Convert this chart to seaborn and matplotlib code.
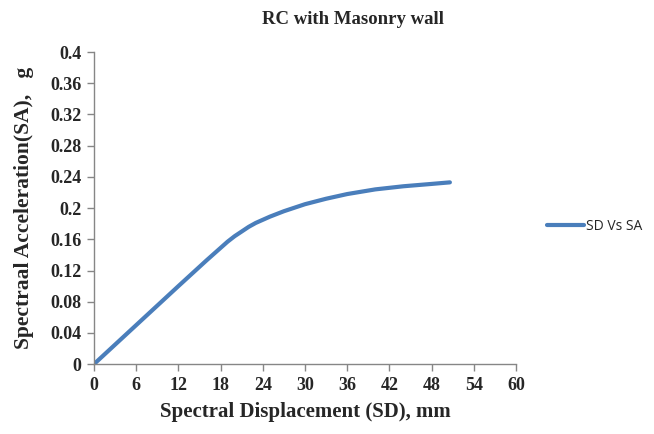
import matplotlib
matplotlib.use("Agg")
import matplotlib.pyplot as plt
import seaborn as sns
import pandas as pd

# values
sd_mm = [0, 6, 12, 16, 18, 19, 20, 21, 22, 23, 24, 25, 27, 30, 33, 36, 40, 44, 48, 50.6]
sa_g = [0.0, 0.05, 0.10, 0.133, 0.149, 0.157, 0.164, 0.170, 0.176, 0.181, 0.185, 0.189,
        0.196, 0.205, 0.212, 0.218, 0.224, 0.228, 0.231, 0.233]
x_ticks = [0, 6, 12, 18, 24, 30, 36, 42, 48, 54, 60]
y_ticks = [0, 0.04, 0.08, 0.12, 0.16, 0.2, 0.24, 0.28, 0.32, 0.36, 0.4]
y_labels = ["0", "0.04", "0.08", "0.12", "0.16", "0.2", "0.24", "0.28", "0.32", "0.36", "0.4"]

df = pd.DataFrame({"SD": sd_mm, "SA": sa_g, "series": "SD Vs SA"})

sns.set_theme(style="white")
plt.rcParams["font.family"] = ["Liberation Serif", "DejaVu Serif"]

fig = plt.figure(figsize=(6.54, 4.34), dpi=100)
ax = fig.add_axes([0.1437, 0.161, 0.6453, 0.719])

sns.lineplot(data=df, x="SD", y="SA", hue="series", palette=["#4a7ebb"],
             linewidth=3, ax=ax, legend=True)

ax.set_xlim(0, 60)
ax.set_ylim(0, 0.4)
ax.set_xticks(x_ticks)
ax.set_xticklabels([str(t) for t in x_ticks])
ax.set_yticks(y_ticks)
ax.set_yticklabels(y_labels)

for side in ["top", "right"]:
    ax.spines[side].set_visible(False)
for side in ["left", "bottom"]:
    ax.spines[side].set_color("#868686")
    ax.spines[side].set_linewidth(1)

ax.tick_params(axis="both", direction="out", length=5, width=1, color="#868686",
               labelsize=13, pad=4, bottom=True, left=True)
for lab in ax.get_xticklabels() + ax.get_yticklabels():
    lab.set_fontweight("bold")

ax.set_xlabel("Spectral Displacement (SD), mm", fontsize=15, fontweight="bold", labelpad=6)
ax.set_ylabel("Spectraal Acceleration(SA),   g", fontsize=15.5, fontweight="bold", labelpad=12)
fig.suptitle("RC with Masonry wall", fontsize=13.5, fontweight="bold", y=0.975, x=0.54)

leg = ax.legend(loc="center left", bbox_to_anchor=(1.045, 0.44), frameon=False,
                handlelength=2.6, handletextpad=0.2,
                prop={"family": "Open Sans", "size": 10})
for line in leg.get_lines():
    line.set_linewidth(3)

fig.savefig("out.png", dpi=100)
